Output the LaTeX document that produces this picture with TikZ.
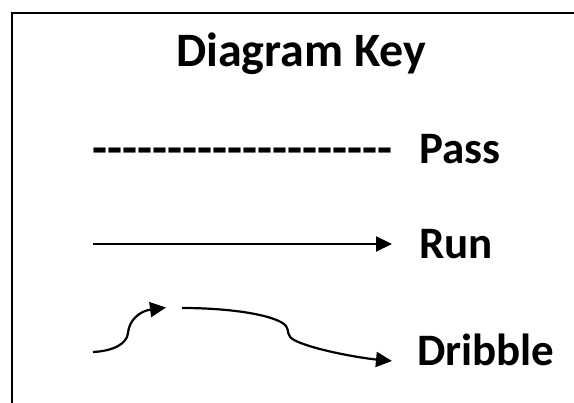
\documentclass[tikz,border=0pt]{standalone}
\usepackage{fontspec}
\setmainfont{Carlito}
\usetikzlibrary{arrows.meta}
\newcommand\hy{\mbox{-}}
\begin{document}
\begin{tikzpicture}[x=1pt,y=-1pt,
  frame/.style={line width=2pt, line join=miter},
  keytitle/.style={anchor=base west, inner sep=0pt, font=\fontsize{48}{54}\selectfont\bfseries},
  keylabel/.style={anchor=base west, inner sep=0pt, font=\fontsize{45}{50}\selectfont\bfseries},
  sample/.style={line width=2.2pt, -{Triangle[length=16pt,width=15pt]}}]
\useasboundingbox (0,0) rectangle (574,403);
\draw[frame] (11.7,403) -- (11.7,12.8) -- (574,12.8);
\node[keytitle] (title) at (176,67) {Diagram Key};
\node[keylabel, font=\fontsize{49}{54}\selectfont\bfseries] (passline) at (92,165) {\hy\hy\hy\hy\hy\hy\hy\hy\hy\hy\hy\hy\hy\hy\hy\hy\hy\hy\hy\hy};
\node[keylabel] (pass) at (419,164) {Pass};
\coordinate (r0) at (93,244);
\coordinate (r1) at (392,244);
\draw[sample] (r0) -- (r1);
\node[keylabel] (run) at (419,259) {Run};
\coordinate (d0) at (93,352);
\coordinate (d1) at (166,307.5);
\coordinate (d2) at (182,308);
\coordinate (d3) at (392,361);
\draw[sample] (d0) .. controls (113,351) and (127,344) .. (128,333)
  .. controls (129,320) and (140,311) .. (d1);
\draw[sample] (d2) .. controls (235,308) and (278,316) .. (286,326)
  .. controls (290,331) and (285,336) .. (296,341)
  .. controls (315,350) and (360,358) .. (d3);
\node[keylabel] (dribble) at (417,366) {Dribble};
\end{tikzpicture}
\end{document}
